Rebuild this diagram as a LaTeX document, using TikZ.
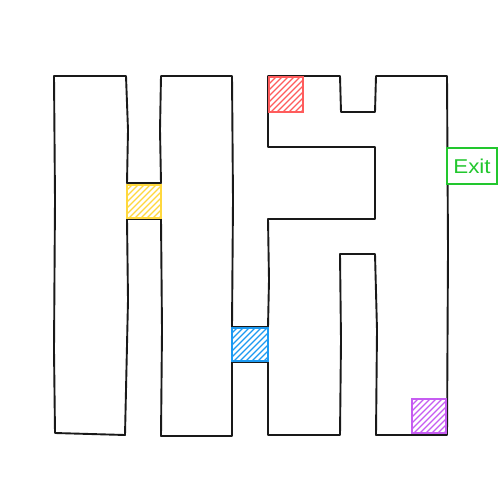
\documentclass[tikz,border=0pt]{standalone}
\usepackage{fontspec}
\setmainfont{Liberation Sans}
\definecolor{mzred}{HTML}{FF5C5C}
\definecolor{mzyellow}{HTML}{FFD83D}
\definecolor{mzblue}{HTML}{1C9AF2}
\definecolor{mzpurple}{HTML}{C65CF2}
\definecolor{mzgreen}{HTML}{22C72E}
\newcommand\mzhatch[5]{%
  \begin{scope}
    \clip (#1,#2) rectangle (#3,#4);
    \foreach \k in {-48,-42,...,48} \draw[#5, line width=1.3pt] (#1+\k,#4+2) -- ++(60,-60);
  \end{scope}
  \draw[#5, line width=1.4pt] (#1,#2) rectangle (#3,#4);
}
\begin{document}
\begin{tikzpicture}[x=1pt,y=-1pt,
  wall/.style={black!90, line width=1.9pt, line join=round, line cap=round},
  exitbox/.style={draw=mzgreen, line width=1.5pt, fill=white, minimum width=50pt, minimum height=36pt, inner sep=0pt, text=mzgreen, font=\fontsize{20}{20}\selectfont}]
\useasboundingbox (0,0) rectangle (500,500);
\fill[white] (0,0) rectangle (500,500);
\draw[wall] (54,76) -- (126,76) -- (128,130) -- (127,183) -- (161,183) -- (160,130) -- (161,76)
  -- (232,76) -- (233,200) -- (232,327) -- (268,327) -- (269,280) -- (268,219) -- (375,219)
  -- (375,147) -- (268,147) -- (268,76) -- (340,76) -- (341,112)
  -- (375,112) -- (376,76) -- (447,76) -- (448,250) -- (447,435) -- (376,435)
  -- (377,330) -- (375,254) -- (340,254) -- (341,340) -- (340,435) -- (268,435) -- (268,362)
  -- (232,362) -- (232,436) -- (161,436) -- (162,330) -- (161,219) -- (127,219)
  -- (128,300) -- (125,435) -- (55,433) -- (54,350) -- (55,200) -- cycle;
\mzhatch{269}{77}{303}{112}{mzred}
\mzhatch{127}{185}{161}{218}{mzyellow}
\mzhatch{232}{328}{268}{361}{mzblue}
\mzhatch{412}{399}{446}{433}{mzpurple}
\node[exitbox] (exit) at (472,166) {\scalebox{1.12}[1]{Exit}};
\end{tikzpicture}
\end{document}
